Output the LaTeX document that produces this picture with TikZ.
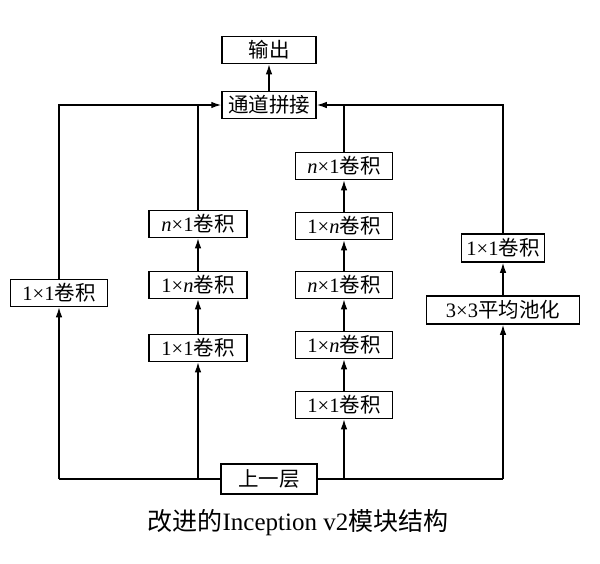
\documentclass[tikz,border=0pt]{standalone}
\usepackage{fontspec}
\setmainfont{Liberation Serif}
\newfontfamily\cjk{Noto Sans CJK SC}
\usetikzlibrary{arrows.meta}
\begin{document}
\begin{tikzpicture}[x=1pt,y=-1pt,
  box/.style={draw,line width=1.5pt,fill=white,minimum height=27pt,inner sep=0pt,font=\fontsize{20.5}{20.5}\selectfont},
  arr/.style={line width=1.3pt,-{Latex[length=10pt,width=6.5pt]}},
  ln/.style={line width=1.3pt}]
\useasboundingbox (0,0) rectangle (600,563);
% nodes
\node[box,minimum width=94pt] (out) at (269,50) {\cjk 输出};
\node[box,minimum width=94pt] (cat) at (269,105) {\cjk 通道拼接};
\node[box,minimum width=96pt,minimum height=30pt] (prev) at (269,479) {\cjk 上一层};
% column 1
\node[box,minimum width=97pt] (a1) at (59,293) {1×1\cjk 卷积};
% column 2
\node[box,minimum width=98pt] (b1) at (198,348) {1×1\cjk 卷积};
\node[box,minimum width=98pt] (b2) at (198,285) {1×\textit{n}\cjk 卷积};
\node[box,minimum width=98pt] (b3) at (198,224) {\textit{n}×1\cjk 卷积};
% column 3
\node[box,minimum width=97pt] (c1) at (344,405) {1×1\cjk 卷积};
\node[box,minimum width=97pt] (c2) at (344,345) {1×\textit{n}\cjk 卷积};
\node[box,minimum width=97pt] (c3) at (344,285) {\textit{n}×1\cjk 卷积};
\node[box,minimum width=97pt] (c4) at (344,226) {1×\textit{n}\cjk 卷积};
\node[box,minimum width=97pt] (c5) at (344,166) {\textit{n}×1\cjk 卷积};
% column 4
\node[box,minimum width=153pt,minimum height=28pt] (d1) at (503,310) {3×3\cjk 平均池化};
\node[box,minimum width=83pt,minimum height=28pt] (d2) at (503,248) {1×1\cjk 卷积};
% coordinates
\coordinate (bl) at (59,479);
\coordinate (br) at (503,479);
\coordinate (tl) at (59,105);
\coordinate (tr) at (503,105);
\coordinate (p2) at (198,479);
\coordinate (p3) at (344,479);
\coordinate (q2) at (198,105);
\coordinate (q3) at (344,105);
% bottom distribution
\draw[ln] (prev.west) -- (bl);
\draw[ln] (prev.east) -- (br);
\draw[arr] (bl) -- (a1.south);
\draw[arr] (p2) -- (b1.south);
\draw[arr] (p3) -- (c1.south);
\draw[arr] (br) -- (d1.south);
% chains
\draw[arr] (b1) -- (b2);
\draw[arr] (b2) -- (b3);
\draw[arr] (c1) -- (c2);
\draw[arr] (c2) -- (c3);
\draw[arr] (c3) -- (c4);
\draw[arr] (c4) -- (c5);
\draw[arr] (d1) -- (d2);
% top collection
\draw[arr] (a1.north) -- (tl) -- (cat.west);
\draw[ln] (b3.north) -- (q2);
\draw[arr] (d2.north) -- (tr) -- (cat.east);
\draw[ln] (c5.north) -- (q3);
\draw[arr] (cat) -- (out);
% caption
\node[font=\fontsize{25}{25}\selectfont] (cap) at (298,523) {\cjk 改进的\rmfamily Inception v2\cjk 模块结构};
\end{tikzpicture}
\end{document}
